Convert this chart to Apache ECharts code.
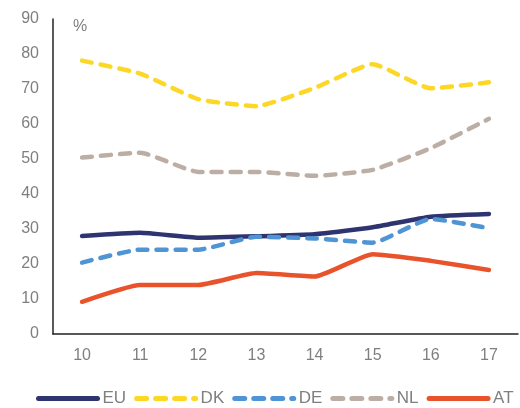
<!DOCTYPE html>
<html>
<head>
<meta charset="utf-8">
<script src="https://cdn.jsdelivr.net/npm/echarts@6/dist/echarts.min.js"></script>
<style>
  html, body { margin: 0; padding: 0; background: #fff; }
  #chart { width: 520px; height: 408px; }
</style>
</head>
<body>
<div id="chart"></div>
<script>
const years = ['10', '11', '12', '13', '14', '15', '16', '17']
const eu = [28, 28.9, 27.5, 27.9, 28.5, 30.5, 33.5, 34.3]
const dk = [78.1, 74.4, 67.1, 65.1, 70.3, 77.1, 70.2, 71.9]
const de = [20.4, 24.1, 24.1, 27.8, 27.3, 26.1, 32.9, 30.2]
const nl = [50.4, 51.8, 46.3, 46.3, 45.2, 46.9, 53.1, 61.5]
const at = [9.2, 14, 14, 17.4, 16.4, 22.8, 20.9, 18.3]

const gray = '#7f7f7f'
const font = 'Liberation Sans, Arial, sans-serif'

function mkSeries(name, data, color, dashed) {
  return {
    name,
    type: 'line',
    data,
    smooth: 0.15,
    symbol: 'none',
    lineStyle: {
      color,
      width: 4.5,
      type: dashed ? [10, 9] : 'solid',
      cap: 'round',
    },
    itemStyle: { color },
  }
}

const chart = echarts.init(document.getElementById('chart'), null, { renderer: 'canvas' })
chart.setOption({
  animation: false,
  grid: { left: 53, right: 2, top: 19, bottom: 74 },
  legend: {
    top: 390,
    left: 36,
    width: 484,
    padding: 0,
    itemWidth: 59,
    itemHeight: 12,
    itemGap: 8,
    itemStyle: { opacity: 0 },
    lineStyle: { width: 5 },
    textStyle: { color: gray, fontSize: 17, fontFamily: font },
    data: ['EU', 'DK', 'DE', 'NL', 'AT'],
  },
  graphic: [{
    type: 'text',
    left: 73,
    top: 19,
    style: { text: '%', fill: gray, fontSize: 16, fontFamily: font },
  }],
  xAxis: {
    type: 'category',
    data: years,
    boundaryGap: true,
    axisLine: { lineStyle: { color: '#222', width: 1.5 } },
    axisTick: { show: false },
    axisLabel: { color: gray, fontSize: 16, fontFamily: font, margin: 14 },
  },
  yAxis: {
    type: 'value',
    min: 0,
    max: 90,
    interval: 10,
    axisLine: { show: true, lineStyle: { color: '#222', width: 1.5 } },
    axisTick: { show: false },
    splitLine: { show: false },
    axisLabel: { color: gray, fontSize: 16, fontFamily: font, margin: 14 },
  },
  series: [
    mkSeries('EU', eu, '#2e3470', false),
    mkSeries('DK', dk, '#fdd726', true),
    mkSeries('DE', de, '#4f94d4', true),
    mkSeries('NL', nl, '#bcaea4', true),
    mkSeries('AT', at, '#e9532b', false),
  ],
})
</script>
</body>
</html>
